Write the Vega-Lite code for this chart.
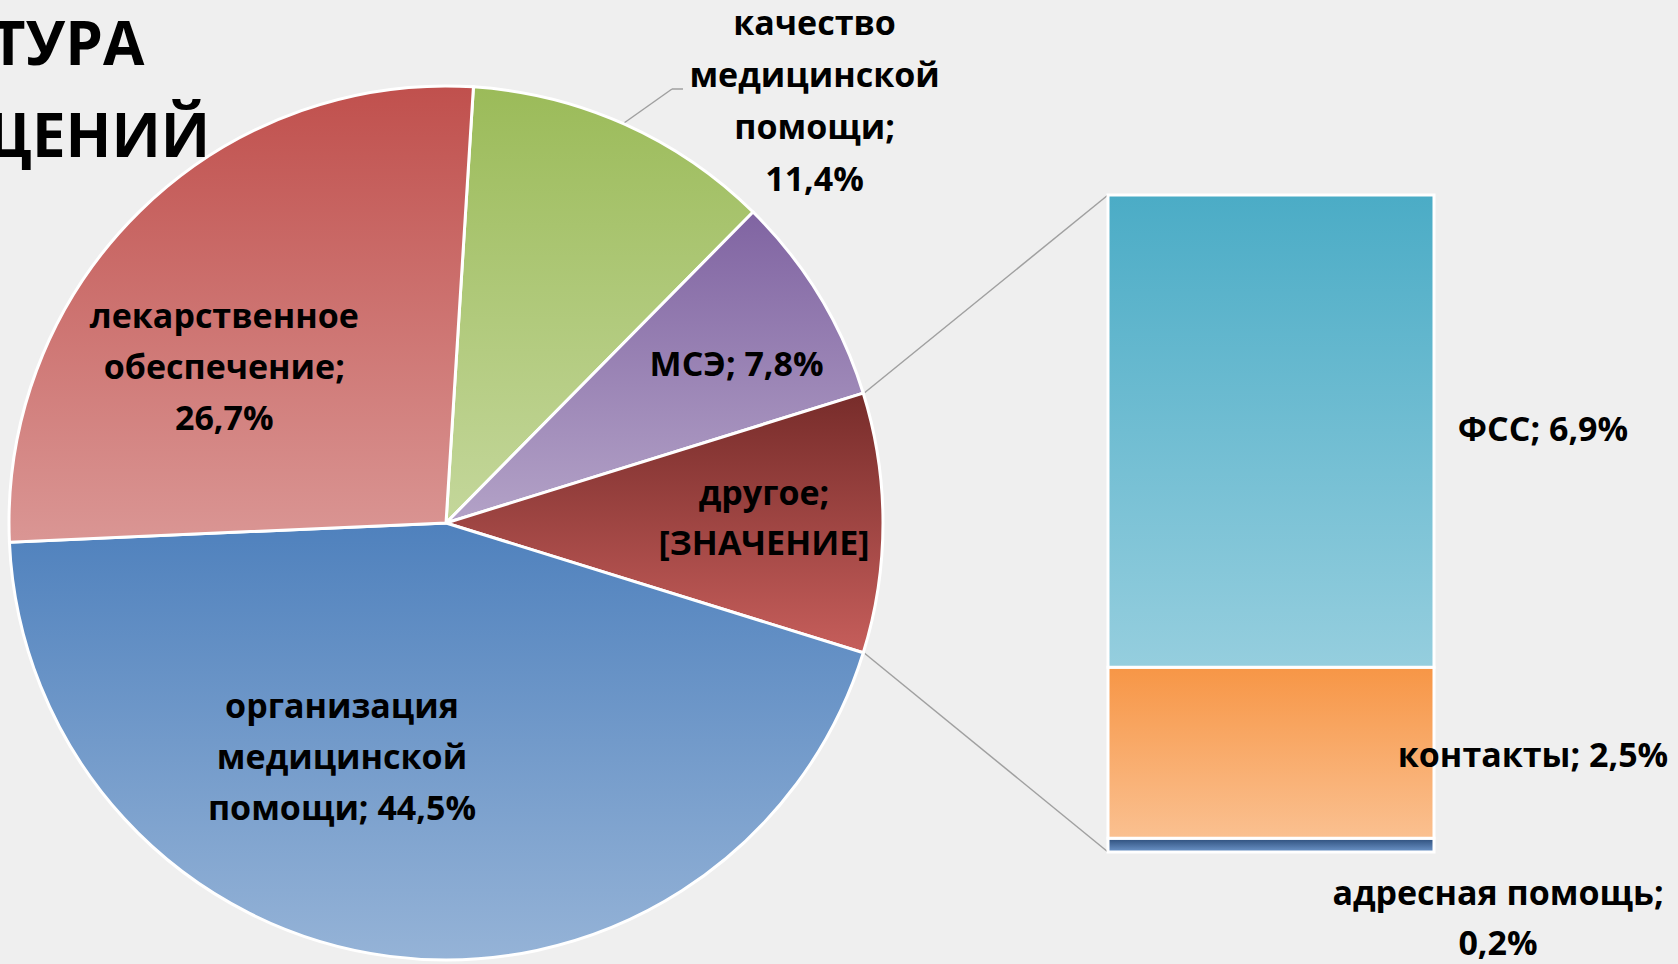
{
  "$schema": "https://vega.github.io/schema/vega-lite/v6.json",
  "width": 1678,
  "height": 964,
  "autosize": {"type": "none"},
  "padding": 0,
  "background": "#efefef",
  "config": {"view": {"stroke": null}},
  "title": {
    "text": ["СТРУКТУРА", "ОБРАЩЕНИЙ"],
    "anchor": "start",
    "frame": "group",
    "orient": "top",
    "align": "left",
    "baseline": "alphabetic",
    "offset": 0,
    "dx": -200,
    "dy": 217,
    "font": "Open Sans",
    "fontWeight": "bold",
    "fontSize": 60,
    "lineHeight": 92,
    "color": "#000000"
  },
  "datasets": {
    "pie": [
      {"n": 1, "cat": "качество медицинской помощи", "value": 11.4, "label": "качество\nмедицинской\nпомощи;\n11,4%"},
      {"n": 2, "cat": "МСЭ", "value": 7.8, "label": "МСЭ; 7,8%"},
      {"n": 3, "cat": "другое", "value": 9.6, "label": "другое;\n[ЗНАЧЕНИЕ]"},
      {"n": 4, "cat": "организация медицинской помощи", "value": 44.5, "label": "организация\nмедицинской\nпомощи; 44,5%"},
      {"n": 5, "cat": "лекарственное обеспечение", "value": 26.7, "label": "лекарственное\nобеспечение;\n26,7%"}
    ],
    "bar": [
      {"n": 1, "grp": "другое", "cat": "адресная помощь", "value": 0.2, "label": "адресная помощь;\n0,2%"},
      {"n": 2, "grp": "другое", "cat": "контакты", "value": 2.5, "label": "контакты; 2,5%"},
      {"n": 3, "grp": "другое", "cat": "ФСС", "value": 6.9, "label": "ФСС; 6,9%"}
    ]
  },
  "layer": [
    {
      "data": {"values": [{}]},
      "mark": {"type": "rule", "stroke": "#a0a0a0", "strokeWidth": 1.5},
      "encoding": {"x": {"value": 863}, "y": {"value": 394}, "x2": {"value": 1108}, "y2": {"value": 195}}
    },
    {
      "data": {"values": [{}]},
      "mark": {"type": "rule", "stroke": "#a0a0a0", "strokeWidth": 1.5},
      "encoding": {"x": {"value": 863}, "y": {"value": 652}, "x2": {"value": 1108}, "y2": {"value": 852}}
    },
    {
      "data": {"values": [{}]},
      "mark": {"type": "rule", "stroke": "#a0a0a0", "strokeWidth": 1.5},
      "encoding": {"x": {"value": 624}, "y": {"value": 123}, "x2": {"value": 672}, "y2": {"value": 89}}
    },
    {
      "data": {"values": [{}]},
      "mark": {"type": "rule", "stroke": "#a0a0a0", "strokeWidth": 1.5},
      "encoding": {"x": {"value": 672}, "y": {"value": 89}, "x2": {"value": 683}, "y2": {"value": 89}}
    },
    {
      "data": {"name": "pie"},
      "mark": {"type": "arc", "outerRadius": 437, "x": 446, "y": 523, "stroke": "#ffffff", "strokeWidth": 3},
      "encoding": {
        "theta": {"field": "value", "type": "quantitative", "stack": true, "scale": {"range": [0.0628, 6.346]}},
        "order": {"field": "n", "type": "quantitative"},
        "color": {
          "condition": [
            {"test": "datum.n === 1", "value": {"gradient": "linear", "x1": 0, "y1": 0, "x2": 0, "y2": 1, "stops": [{"offset": 0, "color": "#9BBB59"}, {"offset": 1, "color": "#C4D79B"}]}},
            {"test": "datum.n === 2", "value": {"gradient": "linear", "x1": 0, "y1": 0, "x2": 0, "y2": 1, "stops": [{"offset": 0, "color": "#8064A2"}, {"offset": 1, "color": "#B3A2C7"}]}},
            {"test": "datum.n === 3", "value": {"gradient": "linear", "x1": 0, "y1": 0, "x2": 0, "y2": 1, "stops": [{"offset": 0, "color": "#772C2A"}, {"offset": 1, "color": "#C65E5B"}]}},
            {"test": "datum.n === 4", "value": {"gradient": "linear", "x1": 0, "y1": 0, "x2": 0, "y2": 1, "stops": [{"offset": 0, "color": "#4F81BD"}, {"offset": 1, "color": "#95B3D7"}]}}
          ],
          "value": {"gradient": "linear", "x1": 0, "y1": 0, "x2": 0, "y2": 1, "stops": [{"offset": 0, "color": "#C0504D"}, {"offset": 1, "color": "#DA9694"}]}
        }
      }
    },
    {
      "data": {"name": "pie"},
      "mark": {"type": "text", "x": 446, "y": 523, "radius": 437, "dx": 190, "dy": -99, "font": "Open Sans", "fontWeight": "bold", "fontSize": 34, "lineHeight": 52, "lineBreak": "\n", "align": "center", "baseline": "middle", "color": "#000000"},
      "encoding": {
        "theta": {"field": "value", "type": "quantitative", "stack": true},
        "order": {"field": "n", "type": "quantitative"},
        "text": {"condition": {"test": "datum.n === 1", "field": "label"}, "value": ""}
      }
    },
    {
      "data": {"name": "pie"},
      "mark": {"type": "text", "x": 446, "y": 523, "radius": 332, "dx": 7, "dy": 16, "font": "Open Sans", "fontWeight": "bold", "fontSize": 34, "lineHeight": 52, "lineBreak": "\n", "align": "center", "baseline": "middle", "color": "#000000"},
      "encoding": {
        "theta": {"field": "value", "type": "quantitative", "stack": true},
        "order": {"field": "n", "type": "quantitative"},
        "text": {"condition": {"test": "datum.n === 2", "field": "label"}, "value": ""}
      }
    },
    {
      "data": {"name": "pie"},
      "mark": {"type": "text", "x": 446, "y": 523, "radius": 318, "dx": 0, "dy": -28, "font": "Open Sans", "fontWeight": "bold", "fontSize": 34, "lineHeight": 50, "lineBreak": "\n", "align": "center", "baseline": "middle", "color": "#000000"},
      "encoding": {
        "theta": {"field": "value", "type": "quantitative", "stack": true},
        "order": {"field": "n", "type": "quantitative"},
        "text": {"condition": {"test": "datum.n === 3", "field": "label"}, "value": ""}
      }
    },
    {
      "data": {"name": "pie"},
      "mark": {"type": "text", "x": 446, "y": 523, "radius": 257, "dx": -71, "dy": -70, "font": "Open Sans", "fontWeight": "bold", "fontSize": 34, "lineHeight": 51, "lineBreak": "\n", "align": "center", "baseline": "middle", "color": "#000000"},
      "encoding": {
        "theta": {"field": "value", "type": "quantitative", "stack": true},
        "order": {"field": "n", "type": "quantitative"},
        "text": {"condition": {"test": "datum.n === 4", "field": "label"}, "value": ""}
      }
    },
    {
      "data": {"name": "pie"},
      "mark": {"type": "text", "x": 446, "y": 523, "radius": 268, "dx": -34, "dy": -14, "font": "Open Sans", "fontWeight": "bold", "fontSize": 34, "lineHeight": 51, "lineBreak": "\n", "align": "center", "baseline": "middle", "color": "#000000"},
      "encoding": {
        "theta": {"field": "value", "type": "quantitative", "stack": true},
        "order": {"field": "n", "type": "quantitative"},
        "text": {"condition": {"test": "datum.n === 5", "field": "label"}, "value": ""}
      }
    },
    {
      "data": {"name": "bar"},
      "mark": {"type": "bar", "stroke": "#ffffff", "strokeWidth": 3},
      "encoding": {
        "x": {"field": "grp", "type": "nominal", "axis": null, "scale": {"type": "band", "domain": ["другое"], "range": [1108, 1434], "paddingInner": 0, "paddingOuter": 0}},
        "y": {"field": "value", "type": "quantitative", "stack": "zero", "axis": null, "scale": {"domain": [0, 9.6], "range": [852, 195], "nice": false, "zero": true}},
        "order": {"field": "n", "type": "quantitative"},
        "color": {
          "condition": [
            {"test": "datum.n === 1", "value": {"gradient": "linear", "x1": 0, "y1": 0, "x2": 0, "y2": 1, "stops": [{"offset": 0, "color": "#2C4D7A"}, {"offset": 1, "color": "#6E96CA"}]}},
            {"test": "datum.n === 2", "value": {"gradient": "linear", "x1": 0, "y1": 0, "x2": 0, "y2": 1, "stops": [{"offset": 0, "color": "#F79646"}, {"offset": 1, "color": "#FAC090"}]}}
          ],
          "value": {"gradient": "linear", "x1": 0, "y1": 0, "x2": 0, "y2": 1, "stops": [{"offset": 0, "color": "#4BACC6"}, {"offset": 1, "color": "#95CEDE"}]}
        }
      }
    },
    {
      "data": {"name": "bar"},
      "transform": [
        {"stack": "value", "groupby": ["grp"], "sort": [{"field": "n", "order": "ascending"}], "as": ["y0", "y1"]},
        {"calculate": "(datum.y0 + datum.y1) / 2", "as": "ym"}
      ],
      "layer": [
        {
          "mark": {"type": "text", "dx": 272, "dy": 0, "font": "Open Sans", "fontWeight": "bold", "fontSize": 34, "lineHeight": 50, "lineBreak": "\n", "align": "center", "baseline": "middle", "color": "#000000"},
          "encoding": {
            "x": {"field": "grp", "type": "nominal"},
            "y": {"field": "ym", "type": "quantitative"},
            "text": {"condition": {"test": "datum.n === 3", "field": "label"}, "value": ""}
          }
        },
        {
          "mark": {"type": "text", "dx": 262, "dy": 4, "font": "Open Sans", "fontWeight": "bold", "fontSize": 34, "lineHeight": 50, "lineBreak": "\n", "align": "center", "baseline": "middle", "color": "#000000"},
          "encoding": {
            "x": {"field": "grp", "type": "nominal"},
            "y": {"field": "ym", "type": "quantitative"},
            "text": {"condition": {"test": "datum.n === 2", "field": "label"}, "value": ""}
          }
        },
        {
          "mark": {"type": "text", "dx": 227, "dy": 50, "font": "Open Sans", "fontWeight": "bold", "fontSize": 34, "lineHeight": 50, "lineBreak": "\n", "align": "center", "baseline": "middle", "color": "#000000"},
          "encoding": {
            "x": {"field": "grp", "type": "nominal"},
            "y": {"field": "ym", "type": "quantitative"},
            "text": {"condition": {"test": "datum.n === 1", "field": "label"}, "value": ""}
          }
        }
      ]
    }
  ]
}
